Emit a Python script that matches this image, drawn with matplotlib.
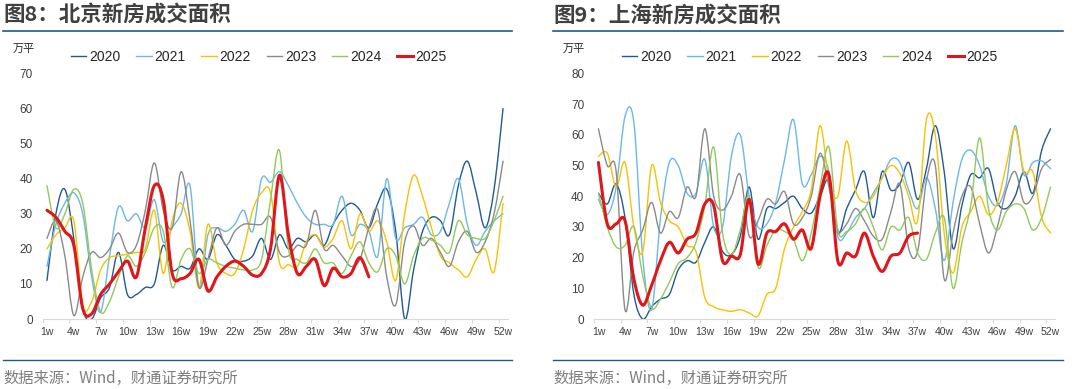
import numpy as np
import matplotlib.pyplot as plt
from matplotlib.path import Path
from matplotlib.patches import PathPatch
from matplotlib.lines import Line2D

# -----------------------------
# Data (万平, weekly)
# -----------------------------

years = ["2020", "2021", "2022", "2023", "2024", "2025"]
weeks = np.arange(1, 53)
tick_weeks = np.arange(1, 53, 3)
tick_labels = [f"{w}w" for w in tick_weeks]

bj_2020 = [11, 30, 37, 23, 3, 0, 6, 9, 19, 7, 7, 9, 10, 21, 14, 15, 14.5, 20, 17, 24,
           21, 17, 16.5, 18, 23, 17, 24, 20, 23, 22, 24, 21, 27, 31, 33, 31, 26, 33, 37, 25,
           0, 14, 25, 29, 28, 24, 38, 45, 36, 26, 37, 60]
bj_2021 = [15, 27, 33, 36, 30, 12, 2, 18, 32, 28, 30, 26, 34, 22, 26, 30, 38, 9, 24, 26,
           25, 27, 31, 25, 40, 39, 42, 38, 33, 29, 27, 27, 27, 35, 24, 27, 25, 18, 40, 23,
           26, 27, 29, 24, 25, 33, 40, 27, 21, 25, 28, 30]
bj_2022 = [20, 24, 26, 28, 4, 5, 14, 17.5, 18, 18.5, 19, 20, 31, 13, 28, 33, 25, 9, 27, 16,
           13, 13, 20, 31, 36, 36, 16, 15.5, 15, 22, 24, 20.5, 23, 28, 20, 30, 25, 28, 22, 11,
           30, 41, 35, 26, 18, 16, 14, 12, 17, 20, 13.5, 33]
bj_2023 = [23, 28, 18, 1, 12, 19, 17.5, 20, 24.5, 19, 21, 31, 44.5, 31, 26, 42, 28, 9, 17, 26,
           21, 25, 27, 27, 27, 29, 19, 18, 21, 21, 31, 20, 21, 18, 15, 17, 26, 31, 12, 4,
           22, 26.5, 21, 23, 19, 15, 22, 25, 19, 22, 30, 45]
bj_2024 = [38, 26, 30, 37, 33, 14, 2, 5, 12, 18, 15, 19, 26, 25, 9, 17, 20, 13, 17, 16,
           15, 14.5, 14, 14, 17, 34, 48, 20, 17, 16, 20, 16, 16, 13, 18, 22, 16, 13.5, 20, 18,
           10, 18, 23, 22.5, 21, 19, 28, 24, 23, 23, 28, 35]
bj_2025 = [31, 29, 25, 21, 3, 1.5, 7, 10, 13.5, 16.5, 12, 26, 38, 34, 13, 11.5, 13, 17, 8, 12,
           15, 16.5, 15, 12.5, 13, 20, 41, 24, 13, 15, 17, 9.5, 14.5, 12, 13, 17.5, 12]

sh_2020 = [41, 37.5, 44, 33, 8, 0, 4, 6.5, 8, 16, 19, 18.5, 25, 30, 22, 21, 27, 43, 26, 36,
           36, 38, 40, 36, 34.5, 40, 45, 28, 36, 42, 48, 33, 48, 42, 44, 51, 39, 49, 63, 48,
           23, 37, 47, 46, 49, 38, 36, 40, 48, 41, 55, 62]
sh_2021 = [39, 34, 43, 66, 64, 20, 3, 33, 51, 50, 41, 41, 52, 30, 30, 53, 60, 40, 30, 31,
           38, 52, 65, 44, 47, 53, 48, 27, 28, 33, 36, 41, 46, 52, 51, 42, 36, 46, 36, 19,
           38, 52, 55, 50, 40, 37, 44, 63, 47, 51, 51.5, 49]
sh_2022 = [53, 54, 43, 51, 30, 22, 50, 38, 32, 30, 24, 22, 7, 4, 3, 2.5, 3, 2, 1, 8,
           10, 23, 30, 35, 42, 63, 45, 40, 58, 42, 38, 40, 46, 50, 47.5, 40, 32, 65, 60, 28,
           15, 30, 35, 40, 34, 38, 50, 62, 48, 48, 33, 28]
sh_2023 = [62, 50, 48, 3, 22, 29, 38, 28, 35, 33, 43, 40, 62, 40, 35.5, 40, 47, 27, 32, 39,
           37.5, 41.5, 31, 33, 40, 54, 43, 29, 31, 36, 32, 27, 26, 35, 44, 23, 22, 45, 50, 13,
           28, 40, 43, 31, 21.5, 30, 42, 48, 38, 40, 49, 52]
sh_2024 = [41, 30, 23.5, 24, 30, 14, 3.5, 6.5, 12, 18, 20, 25, 37, 56, 28, 21, 29, 40, 17, 24,
           29, 28.5, 26, 19, 28, 43, 56, 29, 28.5, 31, 36, 30, 22.5, 30, 29, 33, 21.5, 19.5, 28, 33,
           10, 25, 37, 59, 36, 29, 35, 37.5, 36, 29, 33, 43]
sh_2025 = [51, 31, 31, 32, 13, 4.5, 11, 19, 25, 21.5, 26, 28, 37.5, 37, 19, 20.5, 21, 39, 18, 28,
           28.5, 31, 26, 29, 23, 40, 47, 19, 21.5, 20.5, 28, 20.5, 15.5, 20.5, 21.5, 27, 28]

colors = ["#215a96", "#6cb8e6", "#f7c200", "#8a8a8a", "#93c95b", "#e0161b"]
widths = [1.0, 1.0, 1.0, 1.0, 1.0, 2.2]

# -----------------------------
# Helpers
# -----------------------------

def smooth_path(x, y):
    # Excel-style smoothed line: cubic bezier through each weekly point
    pts = np.column_stack([x, y]).astype(float)
    n = len(pts)
    verts = [pts[0]]
    codes = [Path.MOVETO]
    for i in range(n - 1):
        p0 = pts[i - 1] if i > 0 else pts[i]
        p1 = pts[i]
        p2 = pts[i + 1]
        p3 = pts[i + 2] if i + 2 < n else p2
        verts += [p1 + (p2 - p0) / 6, p2 - (p3 - p1) / 6, p2]
        codes += [Path.CURVE4] * 3
    return Path(verts, codes)


def fx(px):
    return px / 1080


def fy(py):
    return 1 - py / 389


cjk = ["Noto Sans CJK SC", "DejaVu Sans"]
plt.rcParams['font.family'] = ['Liberation Sans', 'DejaVu Sans']

fig = plt.figure(figsize=(10.8, 3.89), dpi=100)

panels = [
    dict(title="图8：北京新房成交面积", x0=3, x1=512, ax_l=42.5, ax_r=507.5,
         ymax=70, series=[bj_2020, bj_2021, bj_2022, bj_2023, bj_2024, bj_2025], leg_x=71),
    dict(title="图9：上海新房成交面积", x0=553, x1=1063, ax_l=594, ax_r=1055,
         ymax=80, series=[sh_2020, sh_2021, sh_2022, sh_2023, sh_2024, sh_2025], leg_x=622),
]

for p in panels:
    ax = fig.add_axes([fx(p["ax_l"]), fy(319), fx(p["ax_r"] - p["ax_l"]), (319 - 73.5) / 389])

    for vals, c, lw in zip(p["series"], colors, widths):
        patch = PathPatch(smooth_path(weeks[:len(vals)], vals), fill=False,
                          edgecolor=c, lw=lw, capstyle="round", joinstyle="round")
        ax.add_patch(patch)

    ax.set_xlim(0.5, 52.5)
    ax.set_ylim(0, p["ymax"])
    ax.set_yticks(np.arange(0, p["ymax"] + 1, 10))
    ax.set_xticks(tick_weeks)
    ax.set_xticklabels(tick_labels)
    ax.set_xticks(np.arange(0.5, 53, 3), minor=True)
    ax.tick_params(axis="x", which="major", length=0, labelsize=7.5, colors="#404040", pad=6)
    ax.tick_params(axis="x", which="minor", length=3, color="#d9d9d9", width=0.8)
    ax.tick_params(axis="y", length=0, labelsize=8.5, colors="#404040", pad=7)
    for s in ["top", "right", "left"]:
        ax.spines[s].set_visible(False)
    ax.spines["bottom"].set_color("#d9d9d9")
    ax.spines["bottom"].set_linewidth(0.8)

    # title, rules, unit, source
    fig.text(fx(p["x0"]), fy(15), p["title"], family=cjk, fontsize=15.5,
             fontweight="bold", color="#404040", va="center", ha="left")
    fig.add_artist(Line2D([fx(p["x0"]), fx(p["x1"])], [fy(31), fy(31)],
                          color="#1f5a8a", lw=1.2))
    fig.text(fx(p["x0"] + 10), fy(49), "万平", family=cjk, fontsize=8,
             color="#262626", va="center", ha="left")
    fig.add_artist(Line2D([fx(p["x0"]), fx(p["x1"])], [fy(360), fy(360)],
                          color="#1f5a8a", lw=1.0))
    fig.text(fx(p["x0"]), fy(378), "数据来源：Wind，财通证券研究所", family=cjk,
             fontsize=11, color="#7f7f7f", va="center", ha="left")

    handles = [Line2D([], [], color=c, lw=lw) for c, lw in zip(colors, widths)]
    fig.legend(handles, years, loc="center left",
               bbox_to_anchor=(fx(p["leg_x"]), fy(57)), ncol=6, frameon=False,
               fontsize=10, handlelength=1.1, handletextpad=0.2, columnspacing=1.15,
               borderpad=0, borderaxespad=0, labelcolor="#262626")

fig.savefig("out.png", dpi=100)
